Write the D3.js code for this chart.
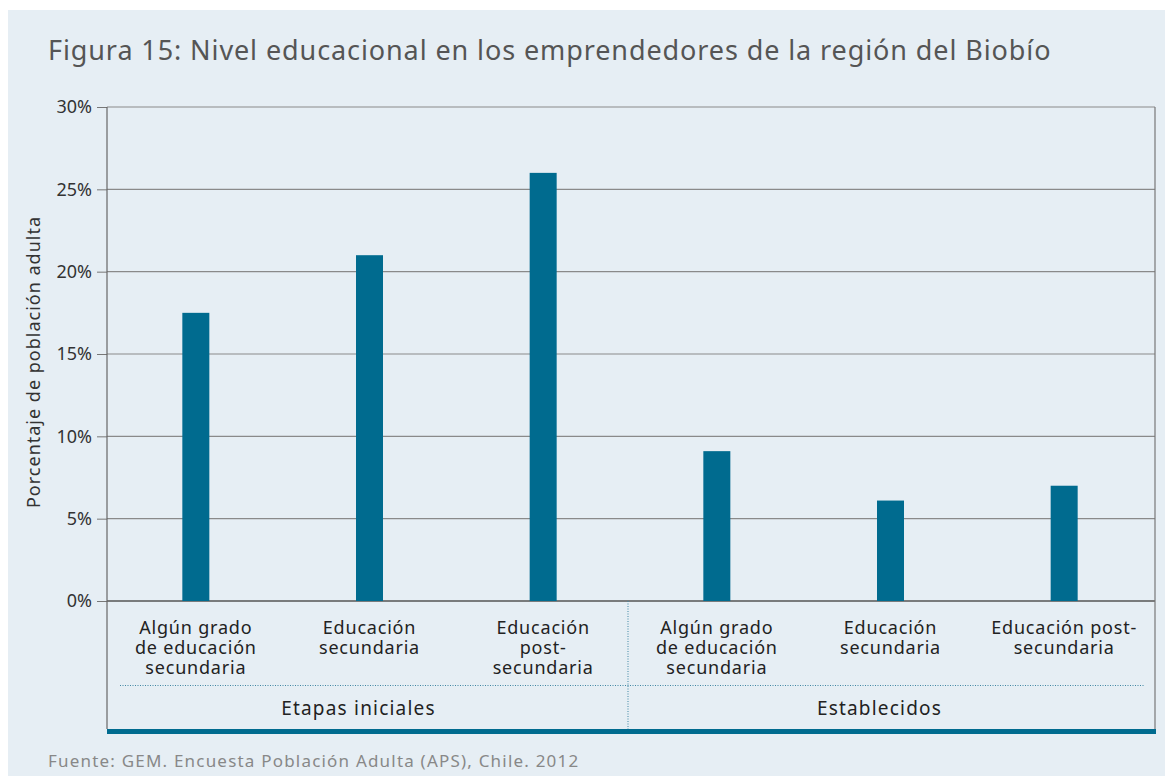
<html>
<head>
<meta charset="utf-8">
<title>Figura 15</title>
<script src="https://cdn.jsdelivr.net/npm/d3@7"></script>
<style>
  body { margin: 0; background: #fff; }
  svg text { font-family: "Noto Sans", "Open Sans", sans-serif; }
</style>
</head>
<body>
<svg id="chart" width="1165" height="776"></svg>
<script>
// data
const groups = ["Etapas iniciales", "Establecidos"];
const categories = [
  ["Algún grado", "de educación", "secundaria"],
  ["Educación", "secundaria"],
  ["Educación", "post-", "secundaria"],
  ["Algún grado", "de educación", "secundaria"],
  ["Educación", "secundaria"],
  ["Educación post-", "secundaria"]
];
const catGroup = [0, 0, 0, 1, 1, 1];
const values = [17.5, 21.0, 26.0, 9.1, 6.1, 7.0];
const yTicks = [0, 5, 10, 15, 20, 25, 30];

const barColor = "#006b8f";
const plotL = 107, plotR = 1155, plotT = 107, plotB = 601;

const svg = d3.select("#chart");

// panel background
svg.append("rect")
  .attr("x", 8).attr("y", 10)
  .attr("width", 1157).attr("height", 766)
  .attr("fill", "#e6eef4");

svg.append("text")
  .attr("x", 48).attr("y", 60)
  .attr("font-size", 27)
  .attr("letter-spacing", 0.9)
  .attr("fill", "#555")
  .text("Figura 15: Nivel educacional en los emprendedores de la región del Biobío");

const x = d3.scaleBand()
  .domain(d3.range(values.length))
  .range([109, 1151]);

const y = d3.scaleLinear().domain([0, 30]).range([plotB, plotT]);

// grid + ticks
const yAxis = svg.append("g")
  .attr("transform", `translate(${plotL},0)`)
  .call(d3.axisLeft(y).tickValues(yTicks).tickSize(10).tickPadding(5).tickFormat(d => d + "%"));
yAxis.select(".domain").remove();
yAxis.selectAll(".tick line").attr("stroke", "#777");
yAxis.selectAll(".tick text")
  .attr("font-size", 18).attr("fill", "#333")
  .attr("font-family", "Noto Sans");

svg.append("g").selectAll("line")
  .data(yTicks)
  .join("line")
    .attr("x1", plotL).attr("x2", plotR)
    .attr("y1", d => y(d)).attr("y2", d => y(d))
    .attr("stroke", d => d === 0 ? "#555" : "#8a8a8a")
    .attr("stroke-width", d => d === 0 ? 1.5 : 1.2);

// bars
const bw = 27;
svg.append("g").selectAll("rect")
  .data(values)
  .join("rect")
    .attr("x", (d, i) => x(i) + x.bandwidth() / 2 - bw / 2)
    .attr("y", d => y(d))
    .attr("width", bw)
    .attr("height", d => y(0) - y(d))
    .attr("fill", barColor);

// frame lines
const frameBottom = 729;
svg.append("line").attr("x1", plotL).attr("x2", plotL).attr("y1", plotT).attr("y2", frameBottom)
  .attr("stroke", "#666").attr("stroke-width", 1.2);
svg.append("line").attr("x1", plotR).attr("x2", plotR).attr("y1", plotT).attr("y2", frameBottom)
  .attr("stroke", "#777").attr("stroke-width", 1.2);

// dotted separators
const midX = x(3) - 2;
svg.append("line").attr("x1", midX).attr("x2", midX).attr("y1", plotB).attr("y2", frameBottom)
  .attr("stroke", "#3f86a3").attr("stroke-width", 1).attr("stroke-dasharray", "1,1.5");
svg.append("line").attr("x1", 120).attr("x2", 1144).attr("y1", 685.5).attr("y2", 685.5)
  .attr("stroke", "#3f86a3").attr("stroke-width", 1).attr("stroke-dasharray", "1,1.5");

// thick bottom bar
svg.append("rect").attr("x", plotL).attr("y", frameBottom)
  .attr("width", plotR - plotL + 1).attr("height", 5).attr("fill", barColor);

// category labels
const cat = svg.append("g").selectAll("text")
  .data(categories)
  .join("text")
    .attr("x", (d, i) => x(i) + x.bandwidth() / 2)
    .attr("y", 634)
    .attr("text-anchor", "middle")
    .attr("font-size", 18)
    .attr("letter-spacing", 0.8)
    .attr("fill", "#222");
cat.selectAll("tspan")
  .data(d => d)
  .join("tspan")
    .attr("x", function() { return d3.select(this.parentNode).attr("x"); })
    .attr("dy", (d, i) => i === 0 ? 0 : 20)
    .text(d => d);

// group labels
svg.append("g").selectAll("text")
  .data(groups)
  .join("text")
    .attr("x", (d, gi) => {
      const idx = catGroup.map((g, i) => g === gi ? i : -1).filter(i => i >= 0);
      return (x(idx[0]) + x(idx[idx.length - 1]) + x.bandwidth()) / 2 - 11;
    })
    .attr("y", 715)
    .attr("text-anchor", "middle")
    .attr("font-size", 19)
    .attr("letter-spacing", 1.2)
    .attr("fill", "#222")
    .text(d => d);

// y axis title
svg.append("text")
  .attr("transform", "translate(40,362) rotate(-90)")
  .attr("text-anchor", "middle")
  .attr("font-size", 18)
  .attr("letter-spacing", 1.0)
  .attr("fill", "#333")
  .text("Porcentaje de población adulta");

// source
svg.append("text")
  .attr("x", 48).attr("y", 767)
  .attr("font-size", 17)
  .attr("letter-spacing", 1.2)
  .attr("fill", "#888")
  .text("Fuente: GEM. Encuesta Población Adulta (APS), Chile. 2012");
</script>
</body>
</html>
